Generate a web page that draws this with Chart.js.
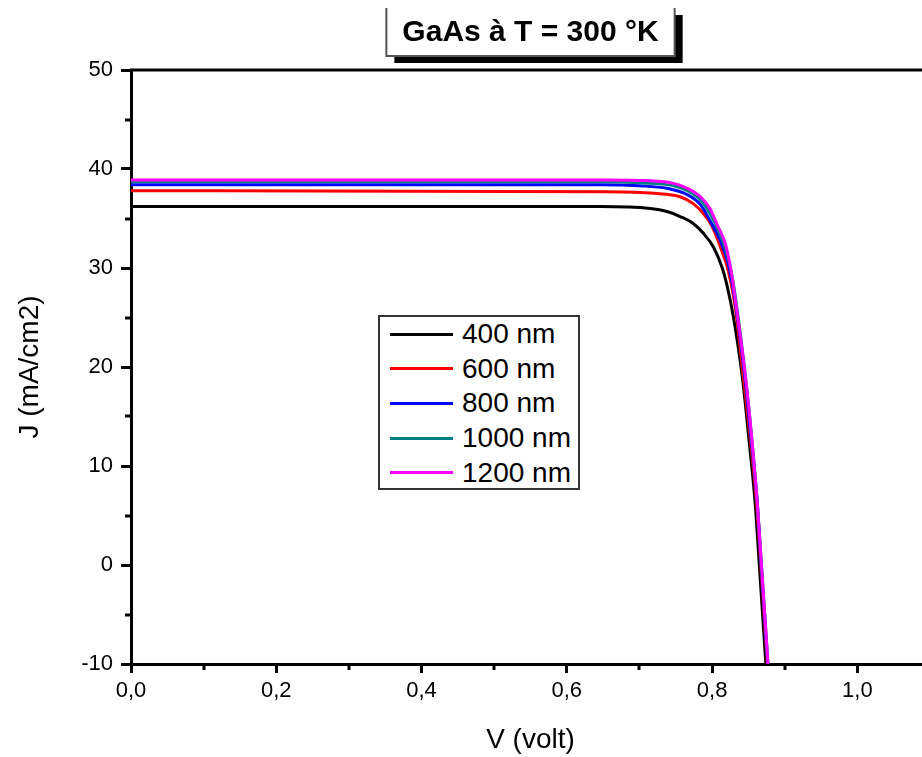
<!doctype html>
<html>
<head>
<title>GaAs a T = 300 K</title>
<script src="https://cdn.jsdelivr.net/npm/chart.js"></script>
<style>
    html, body { margin: 0; padding: 0; overflow: hidden; background: #fff; }
    #wrap { position: relative; width: 930px; height: 757px; }
    #legend {
        position: absolute; left: 378px; top: 315px; width: 198px; height: 171px;
        border: 2px solid #333; background: #fff;
        font-family: "Liberation Sans", Arial, sans-serif; font-size: 28px; color: #000;
    }
    #legend .line { position: absolute; left: 10px; width: 63px; height: 3px; }
    #legend .lbl { position: absolute; left: 82px; height: 30px; line-height: 30px; white-space: nowrap; }
</style>
</head>
<body>
<div id="wrap">
    <canvas id="myChart" width="930" height="757"></canvas>
    <div id="legend"></div>
</div>
<script>
    // series: V (volt) and J (mA/cm2)
    var labels = ['400 nm', '600 nm', '800 nm', '1000 nm', '1200 nm'];
    var colors = ['#000000', '#ff0000', '#0000ff', '#008080', '#ff00ff'];

    var v400 = [0, 0.60, 0.646, 0.715, 0.738, 0.756, 0.774, 0.788, 0.802, 0.814, 0.821, 0.829, 0.8416, 0.851, 0.859, 0.865, 0.874, 0.883];
    var j400 = [36.2, 36.2, 36.2, 36.0, 35.7, 35.2, 34.5, 33.5, 32.1, 30.0, 28.1, 25.2, 19.0, 12.5, 6.5, 0, -10, -20];

    var v600 = [0, 0.65, 0.72, 0.756, 0.774, 0.788, 0.800, 0.811, 0.822, 0.832, 0.843, 0.853, 0.861, 0.867, 0.876, 0.885];
    var j600 = [37.8, 37.7, 37.55, 37.2, 36.5, 35.5, 34.2, 32.2, 29.8, 26.0, 19.0, 12.5, 6.5, 0, -10, -20];

    var v800 = [0, 0.65, 0.70, 0.738, 0.766, 0.784, 0.797, 0.811, 0.822, 0.832, 0.845, 0.854, 0.862, 0.8675, 0.8765, 0.8855];
    var j800 = [38.4, 38.4, 38.3, 38.05, 37.4, 36.4, 34.8, 32.8, 30.5, 26.5, 19.0, 12.5, 6.5, 0, -10, -20];

    var v1000 = [0, 0.65, 0.70, 0.745, 0.766, 0.784, 0.797, 0.808, 0.818, 0.828, 0.846, 0.855, 0.862, 0.868, 0.877, 0.886];
    var j1000 = [38.7, 38.7, 38.6, 38.35, 37.8, 36.9, 35.5, 33.9, 32.0, 29.0, 19.0, 12.5, 6.5, 0, -10, -20];

    var v1200 = [0, 0.65, 0.70, 0.747, 0.766, 0.784, 0.797, 0.808, 0.818, 0.826, 0.832, 0.846, 0.855, 0.862, 0.868, 0.877, 0.886];
    var j1200 = [38.9, 38.9, 38.85, 38.55, 38.05, 37.2, 36.0, 34.2, 32.5, 29.8, 26.8, 19.0, 12.5, 6.5, 0, -10, -20];

    var xTicksMajor = 0.2, yTicksMajor = 10;

    var allV = [v400, v600, v800, v1000, v1200];
    var allJ = [j400, j600, j800, j1000, j1200];
    var FONT = '"Liberation Sans", Arial, sans-serif';

    var datasets = [];
    for (var i = 0; i < labels.length; i++) {
        var pts = [];
        for (var k = 0; k < allV[i].length; k++) {
            pts.push({x: allV[i][k], y: allJ[i][k]});
        }
        datasets.push({
            label: labels[i],
            data: pts,
            borderColor: colors[i],
            backgroundColor: colors[i],
            borderWidth: 3,
            pointRadius: 0,
            fill: false,
            cubicInterpolationMode: 'monotone',
            order: labels.length - 1 - i
        });
    }

    // title box with shadow, top frame line and minor ticks
    var frame = {
        id: 'frame',
        beforeDraw: function (chart) {
            var ctx = chart.ctx, a = chart.chartArea;
            var cx = (a.left + a.right) / 2;
            ctx.save();
            ctx.font = 'bold 30px ' + FONT;
            var w = ctx.measureText(chart.options.plugins.title.text).width + 32;
            var x0 = cx - w / 2, y0 = 8, y1 = 56;
            ctx.fillStyle = '#000';
            ctx.fillRect(x0 + 8, y0 + 7, w, y1 - y0);
            ctx.fillStyle = '#fff';
            ctx.fillRect(x0, y0 - 8, w, y1 - y0 + 8);
            ctx.strokeStyle = '#555';
            ctx.lineWidth = 2;
            ctx.beginPath();
            ctx.moveTo(x0, y0);
            ctx.lineTo(x0, y1);
            ctx.lineTo(x0 + w, y1);
            ctx.lineTo(x0 + w, y0);
            ctx.stroke();
            ctx.restore();
        },
        afterDraw: function (chart) {
            var ctx = chart.ctx, a = chart.chartArea;
            var xs = chart.scales.x, ys = chart.scales.y;
            ctx.save();
            ctx.strokeStyle = '#000';
            ctx.lineWidth = 3;
            ctx.beginPath();
            ctx.moveTo(a.left - 1, a.top);
            ctx.lineTo(a.right, a.top);
            ctx.stroke();
            ctx.beginPath();
            for (var v = xTicksMajor / 2; v < xs.max; v += xTicksMajor) {
                var px = Math.round(xs.getPixelForValue(v));
                ctx.moveTo(px, a.bottom);
                ctx.lineTo(px, a.bottom + 6);
            }
            for (var u = ys.min + yTicksMajor / 2; u < ys.max; u += yTicksMajor) {
                var py = Math.round(ys.getPixelForValue(u));
                ctx.moveTo(a.left, py);
                ctx.lineTo(a.left - 6, py);
            }
            ctx.stroke();
            ctx.restore();
        }
    };

    var ctx = document.getElementById('myChart').getContext('2d');
    var myChart = new Chart(ctx, {
        type: 'line',
        data: {datasets: datasets},
        plugins: [frame],
        options: {
            responsive: false,
            animation: false,
            devicePixelRatio: 1,
            layout: {padding: {left: 0, right: 0, top: 0, bottom: 0}},
            plugins: {
                legend: {display: false},
                tooltip: {enabled: false},
                title: {
                    display: true,
                    text: 'GaAs à T = 300 °K',
                    fullSize: false,
                    color: '#000',
                    font: {family: FONT, size: 30, weight: 'bold', lineHeight: 1.2},
                    padding: {top: 15, bottom: 19}
                }
            },
            scales: {
                x: {
                    type: 'linear',
                    min: 0,
                    max: 1.1,
                    afterFit: function (s) { s.height = 93; },
                    border: {display: true, width: 3, color: '#000'},
                    grid: {drawOnChartArea: false, drawTicks: true, tickLength: 9, tickWidth: 3, tickColor: '#000'},
                    ticks: {
                        stepSize: xTicksMajor,
                        includeBounds: false,
                        autoSkip: false,
                        maxRotation: 0,
                        padding: 5,
                        color: '#000',
                        font: {family: FONT, size: 22},
                        callback: function (v) { return Number(v).toFixed(1).replace('.', ','); }
                    },
                    title: {
                        display: true,
                        text: 'V (volt)',
                        color: '#000',
                        font: {family: FONT, size: 28},
                        padding: {top: 0, bottom: 0}
                    }
                },
                y: {
                    min: -10,
                    max: 50,
                    afterFit: function (s) { s.width = 131; },
                    border: {display: true, width: 3, color: '#000'},
                    grid: {drawOnChartArea: false, drawTicks: true, tickLength: 10, tickWidth: 3, tickColor: '#000'},
                    ticks: {
                        stepSize: yTicksMajor,
                        padding: 8,
                        color: '#000',
                        font: {family: FONT, size: 22}
                    },
                    title: {
                        display: true,
                        text: 'J (mA/cm2)',
                        color: '#000',
                        font: {family: FONT, size: 28},
                        padding: {top: 13, bottom: 0}
                    }
                }
            }
        }
    });

    // HTML legend built from the datasets
    var legendEl = document.getElementById('legend');
    for (var r = 0; r < myChart.data.datasets.length; r++) {
        var ds = myChart.data.datasets[r];
        var cy = 17 + r * 34.7;
        var line = document.createElement('span');
        line.className = 'line';
        line.style.background = ds.borderColor;
        line.style.top = (cy - 1.5) + 'px';
        var lbl = document.createElement('span');
        lbl.className = 'lbl';
        lbl.style.top = (cy - 15) + 'px';
        lbl.textContent = ds.label;
        legendEl.appendChild(line);
        legendEl.appendChild(lbl);
    }
</script>
</body>
</html>
